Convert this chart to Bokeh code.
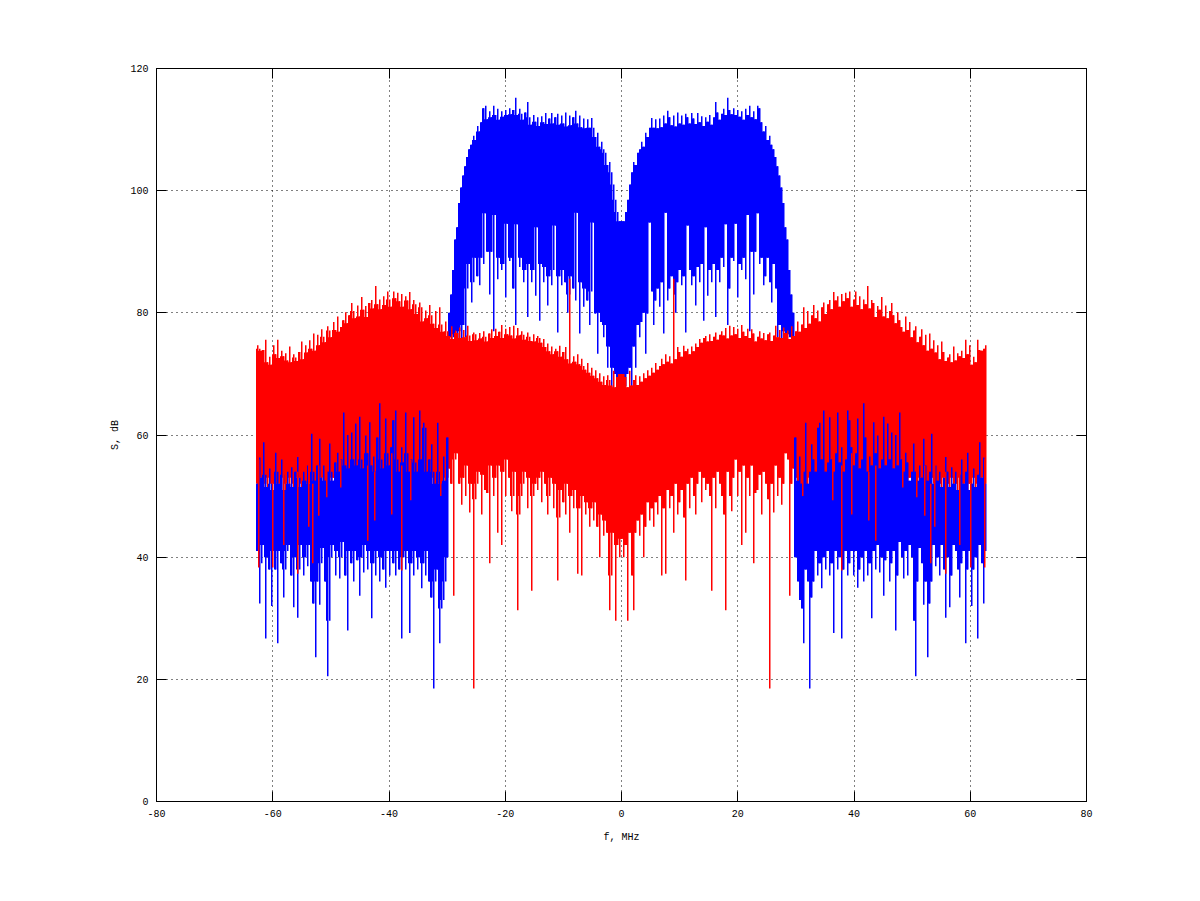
import numpy as np
from bokeh.plotting import figure
from bokeh.models import LinearAxis, FixedTicker, Range1d
from bokeh.embed import file_html
from bokeh.resources import INLINE

x_ticks = [-80, -60, -40, -20, 0, 20, 40, 60, 80]
x_labels = ["-80", "-60", "-40", "-20", "0", "20", "40", "60", "80"]
y_ticks = [0, 20, 40, 60, 80, 100, 120]
y_labels = ["0", "20", "40", "60", "80", "100", "120"]

# bin spacing in MHz; spectrum is mirror-symmetric about 0, so the negative half is listed
bin_mhz = 160 / 465
one_pixel_mhz = 160 / 930

# red trace, from f = -62.6 MHz up to 0
red_top = [
74.7,74.1,73.8,73.9,75.6,71.9,72.8,71.5,74.7,73.2,
75.6,72.6,73.8,72.9,73.4,72.2,74.5,71.9,73.2,72.7,
72.1,73.6,75.3,72.4,74.7,73.5,75.5,74.1,76.6,73.8,
76.4,74.7,77.3,76.1,75.2,77.8,77.1,76,78.5,77.2,
79.4,76.9,77.7,78.8,80.1,78.3,79.6,81.6,80.3,79.1,
81.2,79.4,82.6,80.5,81.1,79.3,81.6,82.1,80.7,84.4,
81.4,82.2,80.6,82.7,81.3,83.5,82.2,81,83.5,82.4,
83.3,81.9,83.1,81,82.7,82,83.4,80.6,82.1,81.4,
79.8,81.7,80.9,78.6,80.4,79.1,81.3,79.6,78.2,80.3,
77.5,80.9,78.1,76.9,78.6,77,76.2,77.8,75.7,77.1,
76.7,77.6,75.9,77.2,76,77.9,76.3,75.4,76.8,76.5,
75.5,76.7,75.8,77,76.1,75.3,76.6,77.3,75.9,77.4,
76.2,76.9,78,75.9,77.4,76.5,77.7,76.3,77.9,75.8,
77.5,76.3,77,76.4,75.6,76.8,76.1,75.4,76.5,75.3,
76.2,75.9,75.1,75.7,74.4,75,73.7,74.5,73.2,74.1,
73.7,74.6,72.8,73.6,74.4,72.4,85.6,71.7,72.9,72,
73.2,71.6,72.5,71.3,70.7,71.8,70.2,71,69.7,70.6,
69.3,70.1,68.7,69.6,68.2,69.8,69,68.1,70.5,67.8,
69.5,70,70]
red_bot = [
52,51,53,50,52,51,53,50,52,51,
50,52,51,53,50,52,51,53,50,52,
51,53,50,52,51,50,52,53,51,50,
52,51,50,53,52,51,50,52,53,51,
52,51,50,53,52,51,50,52,53,51,
50,52,51,53,50,52,51,53,50,52,
51,53,50,52,51,50,52,53,51,50,
52,51,50,53,52,51,50,52,53,51,
52,51,50,53,52,51,50,52,53,51,
49,52,51,47,50,53,54.5,52,33.7,56,
57,52,48.6,53,50,55,47.3,52,18.5,49.5,
52,54,47,53.5,51,50.5,39,55,50,53,
44,55,42,54,50,56,53,47.5,50,54,
31.3,47,50,52,54,48,53,34.5,50,52,
51,53,49,54,52,47,50,53,48,52,
36.2,46.5,51,49,47,52,44,50,48,51,
37.3,48,37,50,47,49,45,48,46,49,
45,40,47,43.5,46,44,31.3,37,44,29.6,
42,40,43]

# blue trace, outer band, from f = -62.6 MHz up to about -30 MHz
side_top = [
52,56.3,53,58.8,53.5,51.5,54.5,52,51,57.1,
54,52,56,53.5,51,54,52,54.7,51.5,54,
56.4,53,51.5,54,52.5,55,52,60.2,54,52.5,
55,59.4,53,55,52.5,54,58.6,54,52.5,55.5,
57.1,54,56,63.7,55,60,54.5,60.4,56,61.9,
55,63,56,54.5,59.9,57,62.1,55,56.5,54,
59.6,65.2,56,54.5,62.7,57,55,58,62.4,64,
56,54,58,55.5,63.7,57,54,56,62.9,55.5,
54,64,56,62,61.2,54,56,58.5,54,52,
62,54,52,56.5,52.5,59.6]
side_bot = [
41,32.4,39,42,26.7,40,38,32,41,38,
25.9,41,39,33.4,38,41,42,37,31.8,40,
30.1,38,42,37,40,38.5,42,36,32.4,23.6,
36,32.2,39,41.5,36,20.5,29.6,40,42,37,
41,36.5,40,42.5,37,28,41,39,36,41,
39.5,33.7,40,37.5,42,38,41,30,39,37,
41,36,40,38,35,41,37,41,39,37,
41,38,26.7,40,38,41,27.6,39,37,41,
38,40,34.9,39,37,41,36,33.4,18.5,36,
38,25.9,31.6,33,36,40]

# blue trace, centre band, from about -29.6 MHz up to 0
centre_top = [
80,83,87,92,94,98,100.5,102.5,104,105.5,
106.8,107.5,109,108.3,110.6,109.7,111.2,113.5,113.9,111.7,
113,112,113.9,112.4,113.4,111.6,113,112.1,113.2,112.4,
113.5,112.5,113.2,115.2,112.4,113.4,112.6,111.6,112.8,114.5,
112,110.8,112.4,111.3,112,110.6,112.2,111.2,112.7,110.9,
111.8,112.7,111,112,112.6,110.8,112.3,111,112.8,110.5,
112.3,110.7,112,113.1,111,112.3,110.4,111.8,110.2,111.7,
110.3,111.9,110.3,108.8,109.5,107.2,
108,106.8,106.2,104.2,104.7,103,101,98.5,96.5,95,95]
centre_bot = [
76,75.5,76,76.5,74,77,75.5,78,76,84,
88,81.7,85,89,86,84.5,89,88,96.3,90,
83,90,77,96,85.5,89,87,88,82.5,94.6,
88.5,89,84,78,94.5,87.5,89,85,87,79.3,
88,85,87,82.8,94,78.7,88,85,87.5,81.2,
86,84.5,87,94.3,76.8,86,84.5,87,85,80,
83,86,84,82,96.4,76.6,85,81,84,82,
78,83.5,94.8,79.9,73.3,80,
78.5,76,78,71,74.5,67.3,71,70,68,69.5,67]

# red spikes that show on top of the outer blue band
red_spike_f = [-62.45,-60.04,-58.15,-55.74,-53.85,-53.16,-52.13,-50.75,-48.34,-43.7,-42.5,-39.57,-37.85,-36.3,-31.14]
red_spike_bot = [38.3,38.3,42,37.3,45,39,46.8,49.8,51.4,42.7,46,47,37.8,49.3,50]
red_spike_top = [56,52,55,54,56,52,55,57,56,55,54,57,55,56,58]

f_start = -bin_mhz * (len(red_top) - 1)
px = one_pixel_mhz


def draw(p, top, bot, color, start):
    """A trace: a solid core where neighbouring bins overlap, then the narrow peaks and dips."""
    top, bot = np.array(top, float), np.array(bot, float)
    f = start + bin_mhz * np.arange(len(top))
    core_top = np.minimum(top, np.append(top[1:], top[-1]))
    core_bot = np.maximum(bot, np.append(bot[1:], bot[-1]))
    ff = np.concatenate([f, -f])
    p.quad(left=ff - 1.5 * px, right=ff + 0.5 * px,
           bottom=np.r_[core_bot, core_bot], top=np.r_[core_top, core_top],
           fill_color=color, line_color=None)
    p.quad(left=ff - 0.5 * px, right=ff + 1.0 * px,
           bottom=np.r_[bot, bot], top=np.r_[top, top],
           fill_color=color, line_color=None)


p = figure(width=1192, height=893, x_range=Range1d(-80, 80), y_range=Range1d(0, 120),
           toolbar_location=None, output_backend="svg",
           min_border_left=156, min_border_right=106, min_border_top=68, min_border_bottom=92,
           x_axis_label="f, MHz", y_axis_label="S, dB")
p.outline_line_color = "black"
p.outline_line_width = 1
p.background_fill_color = "white"

draw(p, centre_top, centre_bot, "#0000ff", -bin_mhz * (len(centre_top) - 1))
draw(p, red_top, red_bot, "#ff0000", f_start)
draw(p, side_top, side_bot, "#0000ff", f_start)

sf = np.array(red_spike_f + [-v for v in red_spike_f])
sf = np.round(sf / px) * px
p.quad(left=sf - 0.5 * px, right=sf + 1.0 * px,
       bottom=red_spike_bot + red_spike_bot, top=red_spike_top + red_spike_top,
       fill_color="#ff0000", line_color=None)

FONT = "Liberation Mono"
for name in ("above", "right"):
    ax = LinearAxis()
    ax.major_label_text_font_size = "0px"
    ax.major_label_text_color = None
    p.add_layout(ax, name)

for ax, ticks, labels in ((p.below[0], x_ticks, x_labels), (p.left[0], y_ticks, y_labels),
                          (p.above[0], x_ticks, x_labels), (p.right[0], y_ticks, y_labels)):
    ax.ticker = FixedTicker(ticks=ticks)
    ax.major_label_overrides = {t: l for t, l in zip(ticks, labels)}
    ax.major_tick_in = 10
    ax.major_tick_out = 0
    ax.minor_tick_in = 0
    ax.minor_tick_out = 0
    ax.axis_line_color = "black"
    ax.major_tick_line_color = "black"

for ax in (p.below[0], p.left[0]):
    ax.major_label_text_font = FONT
    ax.major_label_text_font_size = "10px"
    ax.major_label_text_color = "black"
    ax.major_label_standoff = 8
    ax.axis_label_text_font = FONT
    ax.axis_label_text_font_size = "10px"
    ax.axis_label_text_font_style = "normal"
    ax.axis_label_text_color = "black"
p.below[0].axis_label_standoff = 12
p.left[0].axis_label_standoff = 6
p.left[0].major_label_orientation = "horizontal"

for g, ticks in ((p.xgrid[0], x_ticks), (p.ygrid[0], y_ticks)):
    g.ticker = FixedTicker(ticks=ticks)
    g.grid_line_color = "black"
    g.grid_line_dash = "1 4"
    g.grid_line_width = 1

open("out.html", "w").write(file_html(p, INLINE))
